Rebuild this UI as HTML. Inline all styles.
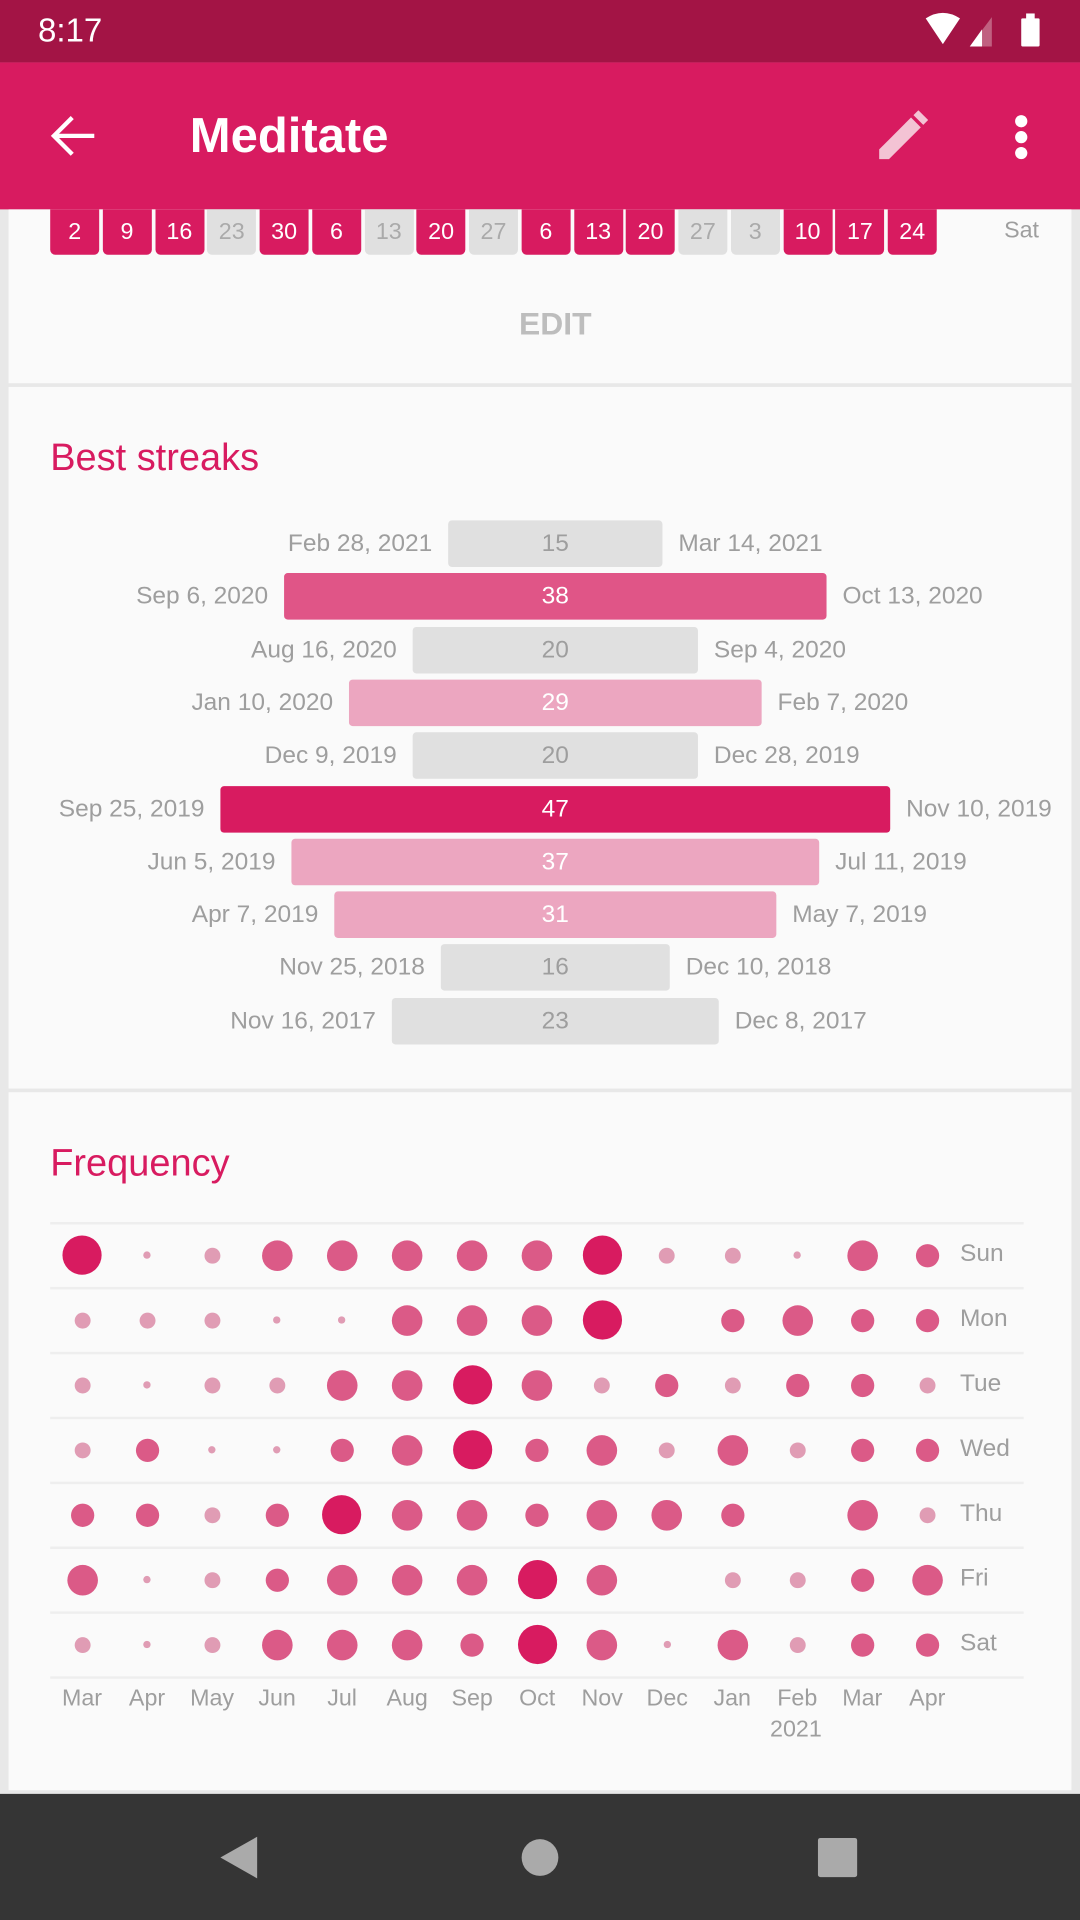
<!DOCTYPE html>
<html><head><meta charset="utf-8"><style>
*{margin:0;padding:0;box-sizing:border-box}
body{width:1080px;height:1920px;overflow:hidden;background:#e8e8e8;font-family:"Liberation Sans",sans-serif}
#w{position:absolute;left:0;top:0;width:882px;height:1568px;transform:scale(1.22449);transform-origin:0 0;background:#e8e8e8}
.a{position:absolute}
.card{position:absolute;left:7px;width:868px;background:#fafafa}
.cell{position:absolute;top:171px;height:37px;width:40px;border-radius:0 0 4px 4px;color:#fff;font-size:19px;text-align:center;line-height:37px}
.bar{position:absolute;height:38px;border-radius:3px;text-align:center;line-height:38px;font-size:20px}
.lt{position:absolute;font-size:20px;color:#9e9e9e;line-height:38px;white-space:nowrap}
.gl{position:absolute;left:41px;width:795px;height:2px;background:#eeeeee}
.dot{position:absolute;border-radius:50%}
.dl{position:absolute;left:784px;font-size:20px;color:#9e9e9e}
.ml{position:absolute;top:1376px;font-size:19px;color:#9e9e9e;width:60px;text-align:center;line-height:24px}
</style></head><body><div id="w">
<div class="a" style="left:0;top:0;width:882px;height:51px;background:#a31445"></div>
<div class="a" style="left:31px;top:10px;color:#fff;font-size:27px;">8:17</div>
<svg class="a" style="left:752px;top:10px" width="110" height="30" viewBox="0 0 110 30">
<path d="M4 5 Q18 -4 32 5 L18 26 Z" fill="#fff"/>
<path d="M58 4 L58 28 L40 28 Z" fill="#c06080"/><path d="M50 14 L50 28 L40 28 Z" fill="#fff"/>
<rect x="82" y="5" width="15" height="23" rx="1" fill="#fff"/><rect x="86" y="1" width="7" height="5" fill="#fff"/>
</svg>
<div class="a" style="left:0;top:51px;width:882px;height:120px;background:#d81b60"></div>
<svg class="a" style="left:40px;top:93px" width="40" height="36" viewBox="0 0 40 36"><path d="M37 18 H5 M19 3 L4 18 L19 33" stroke="#fff" stroke-width="3.5" fill="none"/></svg>
<div class="a" style="left:155px;top:89px;color:#fff;font-size:40px;font-weight:bold">Meditate</div>
<svg class="a" style="left:714px;top:90px" width="44" height="44" viewBox="0 0 44 44"><path d="M4 40 L4 32 L30 6 L38 14 L12 40 Z" fill="#f3c3d4"/><path d="M32 4 L36 0 L44 8 L40 12 Z" fill="#f3c3d4"/></svg>
<div class="a" style="left:829px;top:94px;width:10px;height:10px;border-radius:50%;background:#fff"></div>
<div class="a" style="left:829px;top:107px;width:10px;height:10px;border-radius:50%;background:#fff"></div>
<div class="a" style="left:829px;top:120px;width:10px;height:10px;border-radius:50%;background:#fff"></div>

<div class="card" style="top:171px;height:142px"></div>
<div class="card" style="top:316px;height:573px"></div>
<div class="card" style="top:892px;height:570px"></div>
<div class="a" style="left:0;top:1465px;width:882px;height:103px;background:#353535"></div>
<svg class="a" style="left:170px;top:1492px" width="560" height="52" viewBox="0 0 560 52"><path d="M40 8 L40 42 L10 25 Z" fill="#aaa"/><circle cx="271" cy="25" r="15" fill="#aaa"/><rect x="498" y="9" width="32" height="32" rx="2" fill="#aaa"/></svg>

<div id="cal"></div>
<div class="a" style="left:820px;top:178px;font-size:19px;color:#9e9e9e">Sat</div>
<div class="a" style="left:0;top:249px;width:907px;text-align:center;font-size:26px;font-weight:bold;color:#bdbdbd">EDIT</div>

<div class="a" style="left:41px;top:356px;font-size:31px;color:#d81b60">Best streaks</div>
<div id="bars"></div>

<div class="a" style="left:41px;top:932px;font-size:31px;color:#d81b60">Frequency</div>
<div id="freq"></div>
<div class="ml" style="left:620px;top:1401px">2021</div>
</div>
<script>
var cal=[[2,1],[9,1],[16,1],[23,0],[30,1],[6,1],[13,0],[20,1],[27,0],[6,1],[13,1],[20,1],[27,0],[3,0],[10,1],[17,1],[24,1]];
var h='';cal.forEach(function(c,i){h+='<div class="cell" style="left:'+(41+i*42.75)+'px;background:'+(c[1]?'#d81b60':'#e0e0e0;color:#aaa')+'">'+c[0]+'</div>';});
document.getElementById('cal').innerHTML=h;
var bars=[[366,541,15,'g','Feb 28, 2021','Mar 14, 2021'],[232,675,38,'m','Sep 6, 2020','Oct 13, 2020'],[337,570,20,'g','Aug 16, 2020','Sep 4, 2020'],[285,622,29,'l','Jan 10, 2020','Feb 7, 2020'],[337,570,20,'g','Dec 9, 2019','Dec 28, 2019'],[180,727,47,'d','Sep 25, 2019','Nov 10, 2019'],[238,669,37,'l','Jun 5, 2019','Jul 11, 2019'],[273,634,31,'l','Apr 7, 2019','May 7, 2019'],[360,547,16,'g','Nov 25, 2018','Dec 10, 2018'],[320,587,23,'g','Nov 16, 2017','Dec 8, 2017']];
var col={g:['#e0e0e0','#9e9e9e'],m:['#e05587','#fff'],l:['#eca6c0','#fff'],d:['#d81b60','#fff']};
h='';bars.forEach(function(b,i){var y=425+i*43.3;
h+='<div class="bar" style="left:'+b[0]+'px;width:'+(b[1]-b[0])+'px;top:'+y+'px;background:'+col[b[3]][0]+';color:'+col[b[3]][1]+'">'+b[2]+'</div>';
h+='<div class="lt" style="right:'+(882-b[0]+13)+'px;top:'+y+'px">'+b[4]+'</div>';
h+='<div class="lt" style="left:'+(b[1]+13)+'px;top:'+y+'px">'+b[5]+'</div>';});
document.getElementById('bars').innerHTML=h;
var F=[[5,1,2,4,4,4,4,4,5,2,2,1,4,3],[2,2,2,1,1,4,4,4,5,0,3,4,3,3],[2,1,2,2,4,4,5,4,2,3,2,3,3,2],[2,3,1,1,3,4,5,3,4,2,4,2,3,3],[3,3,2,3,5,4,4,3,4,4,3,0,4,2],[4,1,2,3,4,4,4,5,4,0,2,2,3,4],[2,1,2,4,4,4,3,5,4,1,4,2,3,3]];
var R=[0,3,6.5,9.5,12.5,16],C=['','#e09cb4','#e09cb4','#db5a87','#db5a87','#d81b60'];
var days=['Sun','Mon','Tue','Wed','Thu','Fri','Sat'],mon=['Mar','Apr','May','Jun','Jul','Aug','Sep','Oct','Nov','Dec','Jan','Feb','Mar','Apr'];
h='';for(var k=0;k<8;k++)h+='<div class="gl" style="top:'+(998+k*53)+'px"></div>';
F.forEach(function(r,i){var cy=1025+i*53;h+='<div class="dl" style="top:'+(cy-12)+'px">'+days[i]+'</div>';
r.forEach(function(v,j){if(!v)return;var cx=67+j*53.1,rr=R[v];h+='<div class="dot" style="left:'+(cx-rr)+'px;top:'+(cy-rr)+'px;width:'+2*rr+'px;height:'+2*rr+'px;background:'+C[v]+'"></div>';});});
mon.forEach(function(m,j){h+='<div class="ml" style="left:'+(67+j*53.1-30)+'px">'+m+'</div>';});
document.getElementById('freq').innerHTML=h;
</script>
</body></html>
